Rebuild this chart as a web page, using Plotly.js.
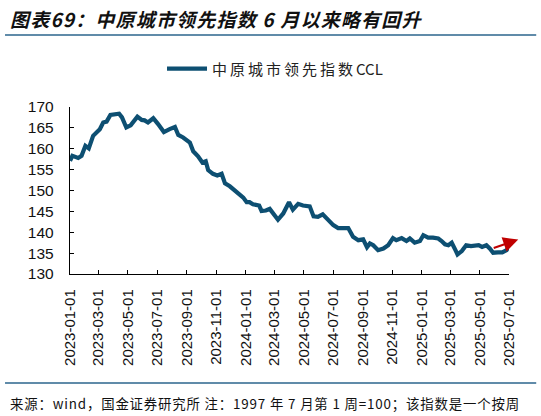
<!DOCTYPE html>
<html>
<head>
<meta charset="utf-8">
<script src="https://cdn.plot.ly/plotly-3.0.1.min.js"></script>
<style>html,body{margin:0;padding:0;background:#fff;}#chart{width:541px;height:416px;}</style>
</head>
<body>
<div id="chart"></div>
<script>
// Weekly readings of 中原城市领先指数 CCL
const dates = [
  "2023-01-01","2023-01-06","2023-01-18","2023-01-25","2023-02-02","2023-02-09","2023-02-18","2023-02-25",
  "2023-03-04","2023-03-11","2023-03-18","2023-03-26","2023-04-04","2023-04-13","2023-04-19","2023-04-28",
  "2023-05-07","2023-05-21","2023-05-30","2023-06-05","2023-06-12","2023-06-23","2023-07-03","2023-07-15",
  "2023-07-27","2023-08-07","2023-08-14","2023-08-24","2023-09-07","2023-09-14","2023-09-24","2023-10-03",
  "2023-10-10","2023-10-15","2023-10-25","2023-11-03","2023-11-12","2023-11-19","2023-11-29","2023-12-09",
  "2023-12-20","2023-12-27","2024-01-03","2024-01-09","2024-01-16","2024-01-29","2024-02-03","2024-02-12",
  "2024-02-20","2024-02-28","2024-03-08","2024-03-19","2024-03-31","2024-04-08","2024-04-19","2024-04-29",
  "2024-05-13","2024-05-21","2024-05-30","2024-06-09","2024-06-20","2024-07-01","2024-07-11","2024-07-21",
  "2024-08-01","2024-08-11","2024-08-22","2024-09-01","2024-09-09","2024-09-15","2024-09-22","2024-10-02",
  "2024-10-13","2024-10-23","2024-11-02","2024-11-09","2024-11-20","2024-11-30","2024-12-07","2024-12-17",
  "2024-12-28","2025-01-04","2025-01-14","2025-01-24","2025-02-04","2025-02-11","2025-02-18","2025-02-25",
  "2025-03-04","2025-03-11","2025-03-16","2025-03-25","2025-04-03","2025-04-13","2025-04-22","2025-04-29",
  "2025-05-06","2025-05-15","2025-05-22","2025-05-29","2025-06-08","2025-06-17","2025-06-26","2025-06-30"
];
const cclValues = [
  157.1,158.3,157.8,158.3,160.7,160.1,163.1,164.0,
  164.7,166.3,166.5,168.1,168.3,168.4,167.5,165.1,
  165.6,167.7,166.9,166.8,166.3,167.3,165.9,164.0,
  164.7,165.2,163.3,162.7,161.5,159.4,158.2,156.7,
  157.0,154.9,154.0,153.6,154.0,151.7,151.0,150.0,
  149.0,148.3,147.2,147.2,146.7,146.4,145.1,145.2,
  145.6,144.5,143.0,144.5,147.2,145.4,146.8,146.4,
  146.2,143.8,143.7,144.3,142.9,141.7,141.0,140.9,
  141.0,138.9,138.1,138.3,136.4,137.3,136.9,135.7,
  136.1,136.9,138.6,138.1,138.6,137.9,138.5,137.5,
  137.9,139.3,138.7,138.7,138.5,137.9,137.1,136.9,
  137.5,135.9,134.7,135.5,136.9,136.7,136.7,136.9,
  136.5,136.9,136.1,135.1,135.2,135.2,135.7,136.4
];
const tickDates = [
  "2023-01-01","2023-03-01","2023-05-01","2023-07-01","2023-09-01","2023-11-01",
  "2024-01-01","2024-03-01","2024-05-01","2024-07-01","2024-09-01","2024-11-01",
  "2025-01-01","2025-03-01","2025-05-01","2025-07-01"
];
const yTicks = [130,135,140,145,150,155,160,165,170];
const seriesName = "中原城市领先指数CCL";
const titleText = "图表69：中原城市领先指数 6 月以来略有回升";
const sourceText = "来源：wind，国金证券研究所 注：1997 年 7 月第 1 周=100；该指数是一个按周";

// spread characters slightly (the original uses letter-spaced text)
function spaced(s, sp) { return Array.from(s).join(sp); }

const trace = {
  x: dates, y: cclValues, type: "scatter", mode: "lines",
  name: spaced(seriesName.replace("CCL", ""), "\u2009") + "\u2009CCL",
  line: {color: "#0D4F72", width: 4.2, shape: "linear"},
  hoverinfo: "skip"
};

const layout = {
  width: 541, height: 416,
  margin: {l: 70, r: 32, t: 107, b: 142},
  paper_bgcolor: "#ffffff", plot_bgcolor: "#ffffff",
  font: {family: "Liberation Sans, Arial, sans-serif", size: 14, color: "#111"},
  showlegend: true,
  legend: {
    orientation: "h", x: 0.467, xanchor: "center", y: 1.228, yanchor: "middle",
    font: {family: "Noto Sans CJK SC, sans-serif", size: 15, color: "#222"},
    itemwidth: 40,
    bgcolor: "rgba(0,0,0,0)"
  },
  xaxis: {
    type: "date", range: ["2023-01-01", "2025-07-01"],
    tickmode: "array", tickvals: tickDates, ticktext: tickDates,
    tickangle: -90, ticks: "inside", ticklen: 4, tickcolor: "#000", tickwidth: 1,
    showline: true, linecolor: "#000", linewidth: 1.2, showgrid: false, zeroline: false,
    tickfont: {family: "Liberation Sans, Arial, sans-serif", size: 15, color: "#111"},
    ticklabelstandoff: 8
  },
  yaxis: {
    range: [130, 170], tickmode: "array", tickvals: yTicks,
    ticks: "inside", ticklen: 4, tickcolor: "#000", tickwidth: 1,
    showline: true, linecolor: "#000", linewidth: 1.2, showgrid: false, zeroline: false,
    tickfont: {family: "Liberation Sans, Arial, sans-serif", size: 15.5, color: "#111"},
    ticklabelstandoff: 12
  },
  shapes: [
    {type: "line", xref: "paper", yref: "paper", x0: -0.148, x1: 1.062, y0: 1.431, y1: 1.431,
     line: {color: "#2B658C", width: 1.6}},
    {type: "line", xref: "paper", yref: "paper", x0: -0.148, x1: 1.062, y0: -0.653, y1: -0.653,
     line: {color: "#2B658C", width: 1.6}}
  ],
  annotations: [
    {text: spaced(titleText, "\u200A"), xref: "paper", yref: "paper", x: -0.142, y: 1.53, xanchor: "left", yanchor: "middle",
     showarrow: false, font: {family: "Noto Sans CJK SC, sans-serif", size: 19, color: "#111", weight: "bold", style: "italic"}},
    {text: spaced(sourceText, "\u200A"), xref: "paper", yref: "paper", x: -0.142, y: -0.775, xanchor: "left", yanchor: "middle",
     showarrow: false, font: {family: "Noto Sans CJK SC, sans-serif", size: 13.4, color: "#111"}},
    {text: "", xref: "paper", yref: "y", x: 1.021, y: 138.26, ax: -26, ay: 9,
     showarrow: true, arrowhead: 2, arrowsize: 1.5, arrowwidth: 2, arrowcolor: "#C00000"}
  ]
};

Plotly.newPlot("chart", [trace], layout, {displayModeBar: false, staticPlot: true});
</script>
</body>
</html>
